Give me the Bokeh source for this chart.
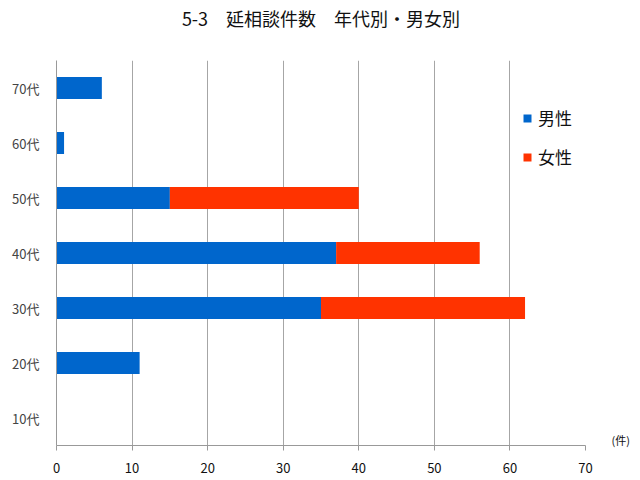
from bokeh.plotting import figure
from bokeh.models import (ColumnDataSource, FactorRange, Range1d, Legend, FixedTicker,
                          LinearAxis, CategoricalAxis)
from bokeh.embed import file_html
from bokeh.resources import INLINE

ages = ["10代", "20代", "30代", "40代", "50代", "60代", "70代"]
male = [0, 11, 35, 37, 15, 1, 6]
female = [0, 0, 27, 19, 25, 0, 0]
series = ["男性", "女性"]
x_ticks = [0, 10, 20, 30, 40, 50, 60, 70]
title_text = "5-3　延相談件数　年代別・男女別"
unit_text = "(件)"

FONT = "Noto Sans CJK JP"
BLUE = "#0066CC"
RED = "#FF3300"

source = ColumnDataSource(data=dict(age=ages, male=male, female=female))

p = figure(
    width=632, height=472,
    frame_width=529, frame_height=385,
    y_range=FactorRange(factors=ages),
    x_range=Range1d(0, 70),
    output_backend="svg", toolbar_location=None,
    min_border_left=56, min_border_right=47, min_border_top=60, min_border_bottom=27,
)
p.outline_line_color = None
p.background_fill_color = "white"
p.border_fill_color = "white"

renderers = p.hbar_stack(["male", "female"], y="age", height=0.4, color=[BLUE, RED],
                         line_color=None, source=source)

legend = Legend(items=[(series[0], [renderers[0]]), (series[1], [renderers[1]])],
                location=(466, 276))
legend.glyph_width = 10
legend.glyph_height = 10
legend.label_text_font = FONT
legend.label_text_font_size = "17px"
legend.label_text_color = "#111111"
legend.label_standoff = 6
legend.spacing = 14
legend.padding = 0
legend.margin = 0
legend.border_line_color = None
legend.background_fill_alpha = 0
p.add_layout(legend, "center")

# x axis
p.xaxis.ticker = FixedTicker(ticks=x_ticks)
p.xaxis.axis_line_color = "#999999"
p.xaxis.major_tick_line_color = "#999999"
p.xaxis.major_tick_out = 5
p.xaxis.major_tick_in = 0
p.xaxis.minor_tick_line_color = None
p.xaxis.major_label_text_font = FONT
p.xaxis.major_label_text_font_size = "13px"
p.xaxis.major_label_text_color = "#111111"
p.xaxis.major_label_standoff = 12

# y axis
p.yaxis.axis_line_color = "#999999"
p.yaxis.major_tick_line_color = None
p.yaxis.minor_tick_line_color = None
p.yaxis.major_label_text_font = FONT
p.yaxis.major_label_text_font_size = "13px"
p.yaxis.major_label_text_color = "#444444"
p.yaxis.major_label_standoff = 11

p.xgrid.grid_line_color = "#A6A6A6"
p.xgrid.ticker = FixedTicker(ticks=x_ticks)
p.ygrid.grid_line_color = None

# chart title, drawn as the single label of a bare axis above the frame
title_axis = LinearAxis(ticker=FixedTicker(ticks=[35]),
                        major_label_overrides={35: title_text})
title_axis.axis_line_color = None
title_axis.major_tick_line_color = None
title_axis.minor_tick_line_color = None
title_axis.major_label_text_font = FONT
title_axis.major_label_text_font_size = "18px"
title_axis.major_label_text_color = "#111111"
title_axis.major_label_standoff = 24
p.add_layout(title_axis, "above")

# unit label "(件)" near the bottom right, as the lowest label of a bare axis on the right
unit_factors = [unit_text] + [" " * k for k in range(1, 36)]
p.extra_y_ranges = {"unit": FactorRange(factors=unit_factors)}
unit_axis = CategoricalAxis(y_range_name="unit")
unit_axis.axis_line_color = None
unit_axis.major_tick_line_color = None
unit_axis.minor_tick_line_color = None
unit_axis.major_label_text_font = FONT
unit_axis.major_label_text_font_size = "11px"
unit_axis.major_label_text_color = "#111111"
unit_axis.major_label_standoff = 20
p.add_layout(unit_axis, "right")

open("out.html", "w").write(file_html(p, INLINE))
